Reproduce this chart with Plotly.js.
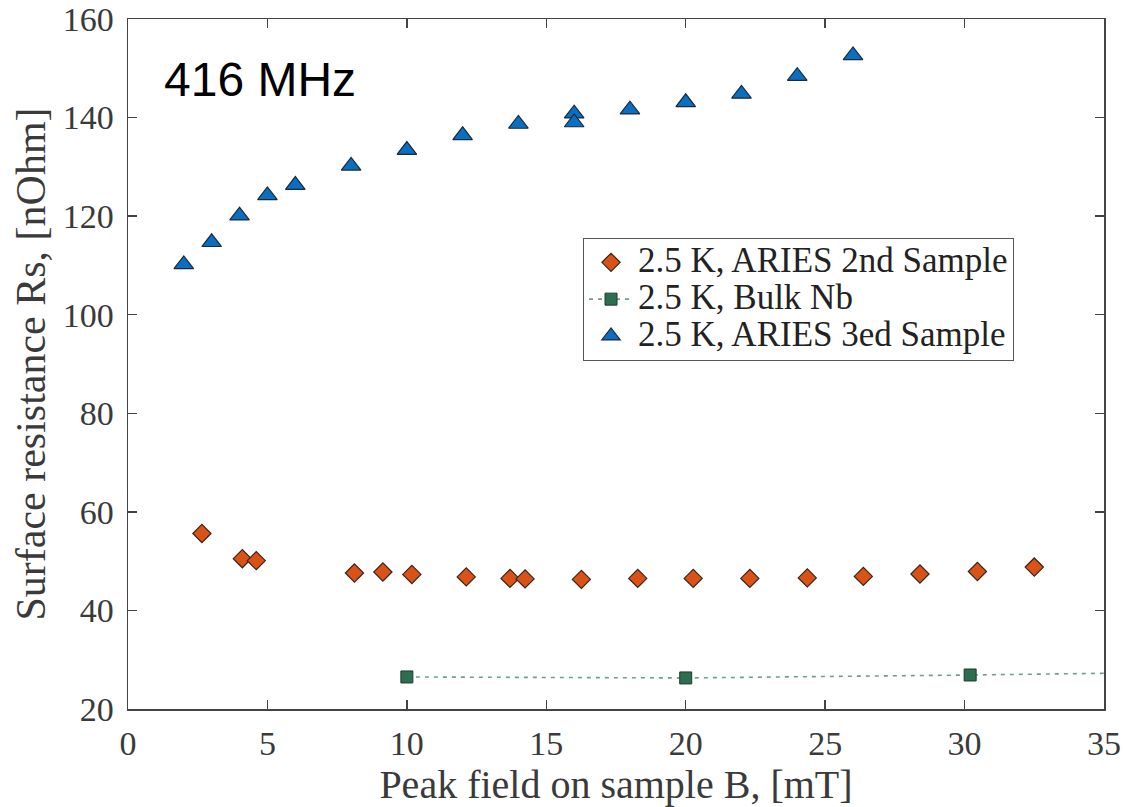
<!DOCTYPE html>
<html>
<head>
<meta charset="utf-8">
<script src="https://cdn.plot.ly/plotly-3.0.1.min.js"></script>
<style>html,body{margin:0;padding:0;background:#fff;}#chart{width:1123px;height:807px;}</style>
</head>
<body>
<div id="chart"></div>
<script>
// Series: 2.5 K, ARIES 2nd Sample
const ariesB2 = [2.65, 4.1, 4.6, 8.12, 9.14, 10.18, 12.13, 13.7, 14.24, 16.26, 18.28, 20.27, 22.3, 24.36, 26.37, 28.4, 30.46, 32.5];
const ariesRs2 = [55.6, 50.5, 50.1, 47.6, 47.8, 47.3, 46.8, 46.5, 46.4, 46.3, 46.5, 46.5, 46.5, 46.6, 46.9, 47.4, 47.9, 48.8];
// Series: 2.5 K, Bulk Nb
const bulkB = [10, 20, 30.2, 40];
const bulkRs = [26.5, 26.3, 26.9, 27.6];
// Series: 2.5 K, ARIES 3ed Sample
const ariesB3 = [2, 3, 4, 5, 6, 8, 10, 12, 14, 16, 16, 18, 20, 22, 24, 26];
const ariesRs3 = [110.2, 114.7, 120.1, 124.2, 126.3, 130.2, 133.4, 136.4, 138.7, 140.8, 139.0, 141.6, 143.1, 144.8, 148.4, 152.6];

const names = ['2.5 K, ARIES 2nd Sample', '2.5 K, Bulk Nb', '2.5 K, ARIES 3ed Sample'];
const xTicks = [0, 5, 10, 15, 20, 25, 30, 35];
const yTicks = [20, 40, 60, 80, 100, 120, 140, 160];

const serif = 'Liberation Serif, Times New Roman, serif';
const legName = n => '<span style="font-size:35px">' + n + '</span>';

const traces = [
  {
    x: ariesB2, y: ariesRs2, name: legName(names[0]), type: 'scatter', mode: 'markers',
    marker: {symbol: 'diamond', size: 14, color: '#D95319', line: {color: '#3a2418', width: 1.2}}
  },
  {
    x: bulkB, y: bulkRs, name: legName(names[1]), type: 'scatter', mode: 'lines+markers',
    line: {color: '#6f9f8a', width: 1.6, dash: '4px,5px'},
    marker: {symbol: 'square', size: 12, color: '#2E6E50', line: {color: '#1d3a2c', width: 1}},
    cliponaxis: true
  },
  {
    x: ariesB3, y: ariesRs3, name: legName(names[2]), type: 'scatter', mode: 'markers',
    marker: {symbol: 'triangle-up', size: 17, color: '#0A6FC0', line: {color: '#1b2a3a', width: 1.2}}
  }
];

const axisCommon = {
  showgrid: false, zeroline: false, showline: true, linecolor: '#444', linewidth: 1.5,
  mirror: 'allticks', ticks: 'inside', ticklen: 9, tickwidth: 1.3, tickcolor: '#444',
  tickfont: {family: serif, size: 34, color: '#3a3a3a'}
};

const layout = {
  width: 1123, height: 807,
  margin: {l: 128, r: 19, t: 19, b: 98},
  paper_bgcolor: '#fff', plot_bgcolor: '#fff',
  showlegend: true,
  xaxis: Object.assign({}, axisCommon, {
    range: [0, 35], tickvals: xTicks, ticktext: xTicks.map(String),
    ticklabelstandoff: 4,
    title: {text: 'Peak field on sample B, [mT]', font: {family: serif, size: 40, color: '#3a3a3a'}, standoff: 0}
  }),
  yaxis: Object.assign({}, axisCommon, {
    range: [20, 160], tickvals: yTicks, ticktext: yTicks.map(String),
    ticklabelstandoff: 6,
    title: {text: 'Surface resistance Rs, [nOhm]', font: {family: serif, size: 42, color: '#3a3a3a'}, standoff: 4}
  }),
  legend: {
    x: 0.466, y: 0.683, xanchor: 'left', yanchor: 'top',
    bgcolor: '#fff', bordercolor: '#555', borderwidth: 1.2,
    font: {family: serif, size: 26, color: '#222'},
    itemwidth: 44, tracegroupgap: 0
  },
  annotations: [{
    text: '416 MHz', xref: 'paper', yref: 'paper', x: 0.035, y: 0.912,
    xanchor: 'left', yanchor: 'middle', showarrow: false,
    font: {family: 'Liberation Sans, Arial, sans-serif', size: 48, color: '#000'}
  }]
};

Plotly.newPlot('chart', traces, layout, {displayModeBar: false, staticPlot: true});
</script>
</body>
</html>
